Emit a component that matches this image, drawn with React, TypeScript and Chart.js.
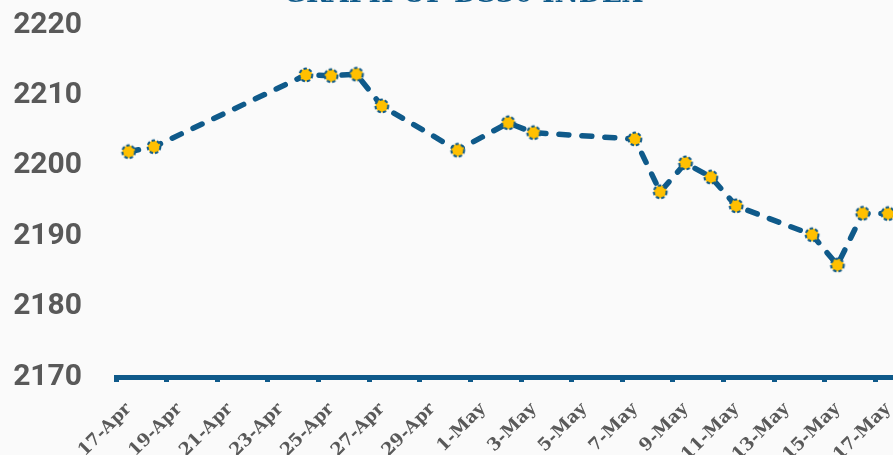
import React, { useEffect, useRef } from 'react';
import { Chart, registerables } from 'chart.js';

Chart.register(...registerables);

// Trading dates and DS30 index closing values
const dates = ['17-Apr', '18-Apr', '24-Apr', '25-Apr', '26-Apr', '27-Apr', '30-Apr', '2-May', '3-May', '7-May', '8-May', '9-May', '10-May', '11-May', '14-May', '15-May', '16-May', '17-May'];
const values = [2202.0, 2202.7, 2212.9, 2212.8, 2213.0, 2208.5, 2202.2, 2206.1, 2204.7, 2203.8, 2196.3, 2200.4, 2198.4, 2194.3, 2190.2, 2185.9, 2193.25, 2193.2];
const xTickLabels = ['17-Apr', '19-Apr', '21-Apr', '23-Apr', '25-Apr', '27-Apr', '29-Apr', '1-May', '3-May', '5-May', '7-May', '9-May', '11-May', '13-May', '15-May', '17-May'];
const yTicks = [2170, 2180, 2190, 2200, 2210, 2220];
const titleText = 'GRAPH OF DS30 INDEX';

const BLUE = '#0f5a8a';
const YELLOW = '#ffc000';
const GREY = '#595959';

// day offset from 17-Apr (April has 30 days)
function dayOf(label: string): number {
  const [d, m] = label.split('-');
  const day = parseInt(d, 10);
  return m === 'Apr' ? day - 17 : 30 - 17 + day;
}

function makePointImage(): HTMLCanvasElement {
  const c = document.createElement('canvas');
  c.width = 18;
  c.height = 18;
  const ctx = c.getContext('2d')!;
  ctx.beginPath();
  ctx.arc(9, 9, 6.4, 0, Math.PI * 2);
  ctx.fillStyle = YELLOW;
  ctx.fill();
  ctx.setLineDash([3.4, 2]);
  ctx.lineWidth = 2;
  ctx.strokeStyle = BLUE;
  ctx.stroke();
  return c;
}

const noSidePadding = (scale: any) => {
  scale.paddingLeft = 0;
  scale.paddingRight = 0;
};

export default function App() {
  const ref = useRef<HTMLCanvasElement | null>(null);

  useEffect(() => {
    if (!ref.current) return;
    const labelByDay: Record<string, string> = {};
    xTickLabels.forEach((l) => (labelByDay[String(dayOf(l) + 0.5)] = l));
    const pts = dates.map((d, i) => ({ x: dayOf(d) + 0.5, y: values[i] }));
    const pointImg = makePointImage();

    const chart = new Chart(ref.current, {
      type: 'line',
      data: {
        datasets: [
          {
            data: pts,
            xAxisID: 'x',
            yAxisID: 'y',
            borderColor: BLUE,
            borderWidth: 5.5,
            borderDash: [10, 13],
            borderCapStyle: 'round',
            borderJoinStyle: 'round',
            tension: 0,
            pointStyle: pointImg as any,
            pointRadius: 7,
            pointHoverRadius: 7,
          },
        ],
      },
      options: {
        responsive: false,
        animation: false,
        devicePixelRatio: 1,
        layout: { padding: 0, autoPadding: false },
        plugins: {
          legend: { display: false },
          tooltip: { enabled: false },
          title: {
            display: true,
            text: titleText,
            color: BLUE,
            font: { family: 'DejaVu Serif', size: 26.5, weight: 'bold' },
            padding: { top: 9.2, bottom: 14 },
          },
        },
        scales: {
          x: {
            type: 'linear',
            position: 'bottom',
            min: 0,
            max: 32,
            afterBuildTicks: (scale: any) => {
              scale.ticks = xTickLabels.map((l) => ({ value: dayOf(l) }));
            },
            afterFit: (scale: any) => {
              scale.height = 5;
              noSidePadding(scale);
            },
            ticks: { display: false },
            grid: {
              display: true,
              drawOnChartArea: false,
              drawTicks: true,
              tickLength: 5,
              tickWidth: 5,
              tickColor: BLUE,
            },
            border: { display: true, color: BLUE, width: 5 },
          },
          x2: {
            type: 'linear',
            position: 'bottom',
            min: 0,
            max: 32,
            afterBuildTicks: (scale: any) => {
              scale.ticks = xTickLabels.map((l) => ({ value: dayOf(l) + 0.5 }));
            },
            afterFit: (scale: any) => {
              scale.height = 108;
              noSidePadding(scale);
            },
            ticks: {
              autoSkip: false,
              maxRotation: 45,
              minRotation: 45,
              padding: 17,
              color: GREY,
              font: { family: 'DejaVu Serif', size: 17.5, weight: 'bold' },
              callback: (v: any) => labelByDay[String(v)] ?? '',
            },
            grid: { display: false, drawTicks: false },
            border: { display: false },
          },
          y: {
            min: 2170,
            max: 2220,
            afterBuildTicks: (scale: any) => {
              scale.ticks = yTicks.map((v) => ({ value: v }));
            },
            afterFit: (scale: any) => {
              scale.width = 116;
            },
            ticks: {
              padding: 34,
              color: GREY,
              font: { family: 'Roboto', size: 30, weight: 'bold' },
              callback: (v: any) => String(v),
            },
            grid: { display: false, drawTicks: false },
            border: { display: false },
          },
        },
      },
    });
    return () => chart.destroy();
  }, []);

  return (
    <div
      style={{
        position: 'fixed',
        left: 0,
        top: 0,
        width: 893,
        height: 455,
        overflow: 'hidden',
        background: '#fafafa',
      }}
    >
      <div style={{ position: 'absolute', left: 0, top: -30 }}>
        <canvas ref={ref} width={926} height={520} style={{ display: 'block' }} />
      </div>
    </div>
  );
}
